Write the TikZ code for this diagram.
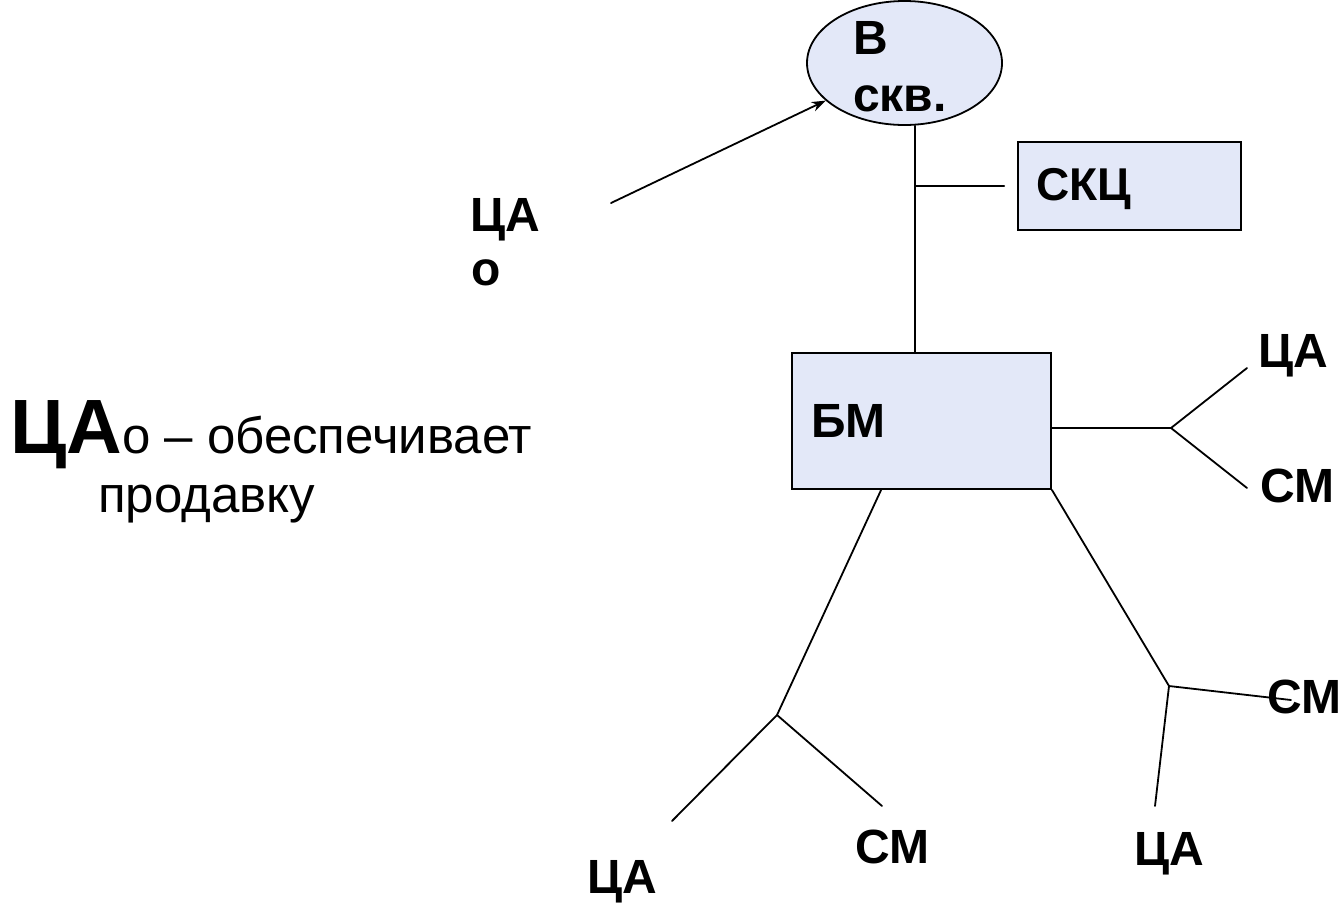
\documentclass[tikz,border=0pt]{standalone}
\usepackage{fontspec}
\setmainfont{Liberation Sans}
\usetikzlibrary{shapes.geometric,arrows.meta}
\definecolor{boxfill}{RGB}{227,232,248}
\begin{document}
\begin{tikzpicture}[x=1pt,y=-1pt,
  shp/.style={draw=black,line width=1.8pt,fill=boxfill,inner sep=0pt},
  lbl/.style={inner sep=0pt,anchor=base west,font=\fontsize{48}{52}\selectfont\bfseries},
  txt/.style={inner sep=0pt,anchor=base west},
  ln/.style={line width=1.8pt,line cap=round}]
\useasboundingbox (0,0) rectangle (1340,903);
% shapes
\node[shp,ellipse,minimum width=195pt,minimum height=124pt] (wskv) at (904.5,63) {};
\node[shp,minimum width=223pt,minimum height=88pt] (skc) at (1129.5,186) {};
\node[shp,minimum width=259pt,minimum height=136pt] (bm) at (921.5,421) {};
% texts
\node[lbl] (tw) at (853,54) {В};
\node[lbl] (tskv) at (853,111) {скв.};
\node[lbl,font=\fontsize{46}{50}\selectfont\bfseries] (tskc) at (1036,200) {СКЦ};
\node[lbl] (tbm) at (811,437) {БМ};
\node[lbl] (ca0) at (470,231) {ЦА};
\node[lbl] (o0) at (471,285) {о};
\node[lbl] (ca1) at (1258,367) {ЦА};
\node[lbl] (cm1) at (1260,502) {СМ};
\node[lbl] (cm2) at (1267,713) {СМ};
\node[lbl] (ca2) at (1134,865) {ЦА};
\node[lbl] (cm3) at (855,863) {СМ};
\node[lbl] (ca3) at (587,893) {ЦА};
\node[txt] (note1) at (10,453) {{\fontsize{77}{82}\selectfont\bfseries ЦА}{\fontsize{51}{57}\selectfont о – обеспечивает}};
\node[txt,font=\fontsize{51}{57}\selectfont] (note2) at (98,512) {продавку};
% junctions and free ends
\coordinate (j1) at (915,186);
\coordinate (a0) at (611,203);
\coordinate (f1) at (1171,428);
\coordinate (e1a) at (1247,368);
\coordinate (e1b) at (1247,488);
\coordinate (f2) at (777,715);
\coordinate (e2a) at (672,821);
\coordinate (e2b) at (882,806);
\coordinate (f3) at (1169,686);
\coordinate (e3a) at (1291,700);
\coordinate (e3b) at (1155,806);
% connectors
\draw[ln] (j1 |- wskv.south) -- (j1 |- bm.north);
\draw[ln] (j1) -- ([xshift=-13pt]skc.west);
\draw[ln,-{Stealth[length=14pt,width=10pt]}] (a0) -- (wskv);
\draw[ln] (bm.east |- f1) -- (f1) -- (e1a);
\draw[ln] (f1) -- (e1b);
\draw[ln] (bm.south west) ++(90,0) -- (f2) -- (e2a);
\draw[ln] (f2) -- (e2b);
\draw[ln] (bm.south east) -- (f3) -- (e3a);
\draw[ln] (f3) -- (e3b);
\end{tikzpicture}
\end{document}
